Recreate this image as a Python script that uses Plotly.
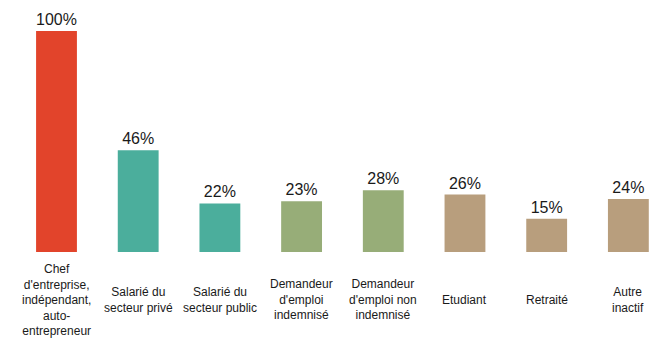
import plotly.graph_objects as go

categories = [
    "Chef<br>d'entreprise,<br>indépendant,<br>auto-<br>entrepreneur",
    "Salarié du<br>secteur privé",
    "Salarié du<br>secteur public",
    "Demandeur<br>d'emploi<br>indemnisé",
    "Demandeur<br>d'emploi non<br>indemnisé",
    "Etudiant",
    "Retraité",
    "Autre<br>inactif",
]
values = [100, 46, 22, 23, 28, 26, 15, 24]
colors = ["#E2442B", "#4BAE9C", "#4BAE9C", "#97AD78", "#97AD78",
          "#B89E7D", "#B89E7D", "#B89E7D"]

x_idx = list(range(len(categories)))

fig = go.Figure()
fig.add_trace(go.Bar(
    x=x_idx, y=values,
    marker=dict(color=colors, line=dict(width=0)),
    text=[f"{v}%" for v in values],
    textposition="outside",
    textfont=dict(family="Liberation Sans, Arial, sans-serif", size=16, color="#1a1a1a"),
    cliponaxis=False,
    hoverinfo="skip",
))

for i, c in enumerate(categories):
    fig.add_annotation(
        x=i, y=-21.7, xref="x", yref="y", text=c, showarrow=False,
        xanchor="center", yanchor="middle", align="center",
        font=dict(family="Liberation Sans, Arial, sans-serif", size=12, color="#1a1a1a"),
    )

fig.update_layout(
    width=659, height=354,
    margin=dict(l=0, r=0, t=0, b=0),
    paper_bgcolor="white", plot_bgcolor="white",
    bargap=0.5,
    showlegend=False,
    xaxis=dict(range=[-0.6916, 7.375], showticklabels=False, showgrid=False,
               zeroline=False, showline=False, ticks=""),
    yaxis=dict(range=[-46.15, 114.03], showticklabels=False, showgrid=False,
               zeroline=False, showline=False, ticks=""),
)

fig.write_html("out.html")
